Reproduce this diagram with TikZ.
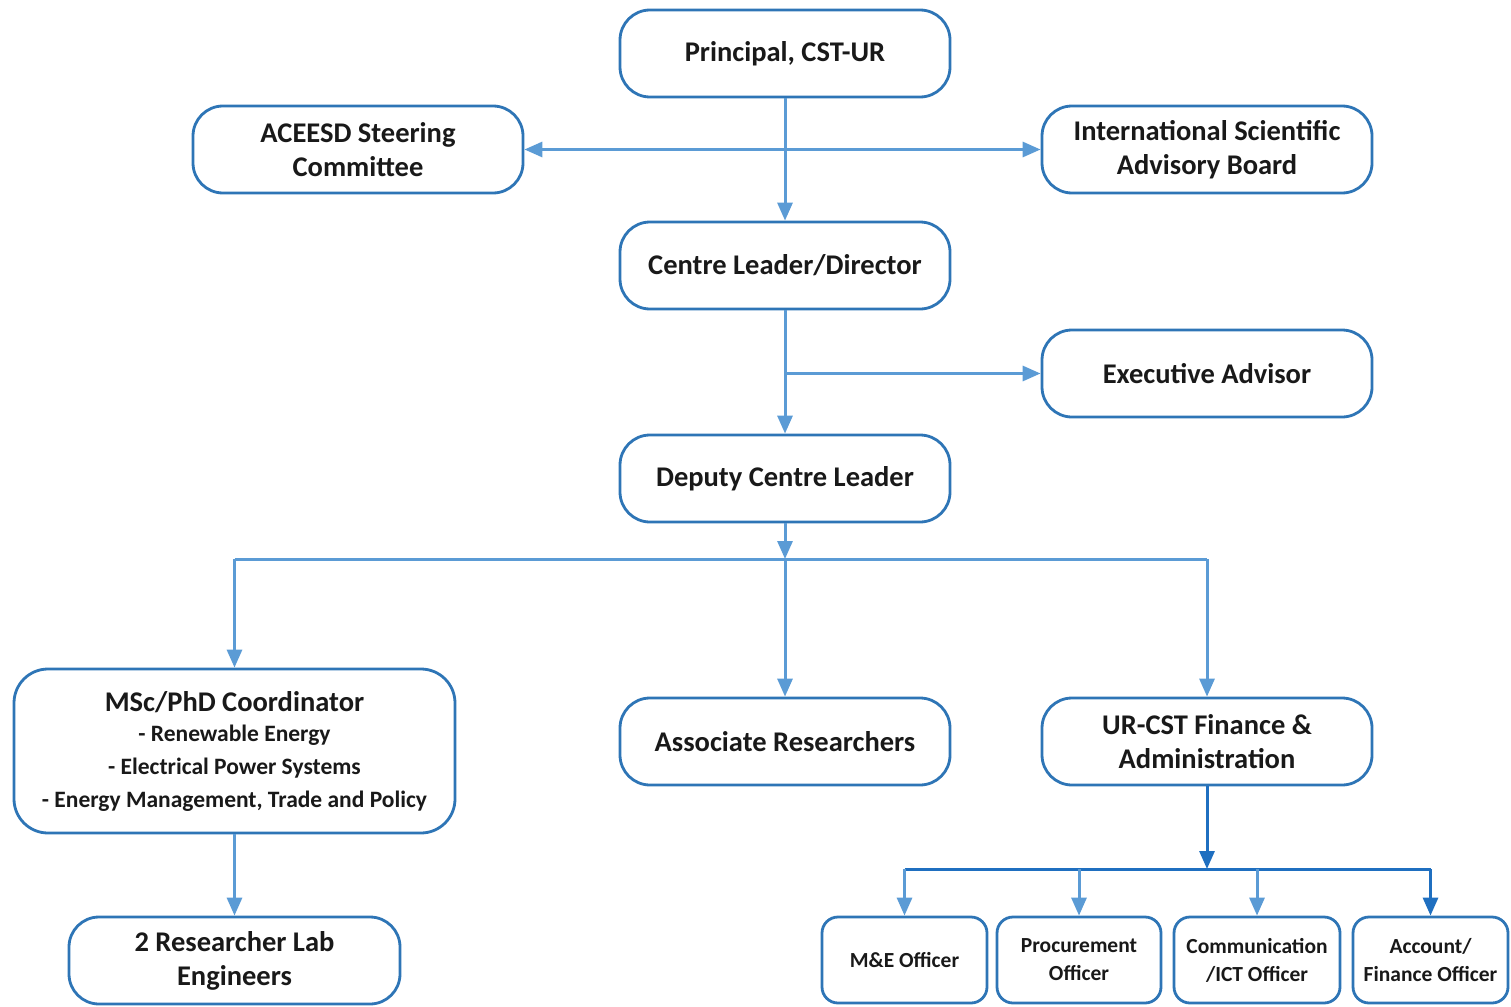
\documentclass[tikz,border=0pt]{standalone}
\usepackage{fontspec}
\setmainfont{Carlito}
\usetikzlibrary{arrows.meta}
\definecolor{boxblue}{HTML}{2E75B6}
\definecolor{lineblue}{HTML}{5B9BD5}
\definecolor{darkblue}{HTML}{1F6FC0}
\tikzset{
  box/.style={draw=boxblue, line width=2.8pt, rounded corners=30pt, fill=white,
    minimum width=330pt, minimum height=87pt, align=center, inner sep=2pt,
    font=\bfseries\fontsize{28.5}{34}\selectfont, text=black!90},
  smallbox/.style={draw=boxblue, line width=2.8pt, rounded corners=16pt, fill=white,
    minimum height=86pt, align=center, inner sep=2pt,
    font=\bfseries\fontsize{21.5}{28}\selectfont, text=black!90},
  tip/.style={},
  conn/.style={draw=lineblue, line width=3pt, -{Triangle[length=18pt,width=15pt]}},
  plain/.style={draw=lineblue, line width=3pt},
  dconn/.style={draw=darkblue, line width=3pt, -{Triangle[length=18pt,width=15pt]}},
  dplain/.style={draw=darkblue, line width=3pt},
}
\begin{document}
\begin{tikzpicture}[x=1pt,y=-1pt]
\useasboundingbox (0,0) rectangle (1511,1006);
\node[box] (prin) at (785,53.5) {Principal, CST-UR};
\node[box] (ace) at (358,149.5) {ACEESD Steering\\Committee};
\node[box] (isab) at (1207,149.5) {International Scientific\\Advisory Board};
\node[box] (cl) at (785,265.5) {Centre Leader/Director};
\node[box] (exec) at (1207,373.5) {Executive Advisor};
\node[box] (dep) at (785,478.5) {Deputy Centre Leader};
\node[box, minimum width=441pt, minimum height=164pt, rounded corners=34pt] (msc) at (234.5,751)
  {MSc/PhD Coordinator\\[-4pt]
   {\fontsize{23.5}{31}\selectfont - Renewable Energy}\\[-1pt]
   {\fontsize{23.5}{31}\selectfont - Electrical Power Systems}\\[-1pt]
   {\fontsize{23.5}{31}\selectfont - Energy Management, Trade and Policy}};
\node[box] (assoc) at (785,741.5) {Associate Researchers};
\node[box] (fin) at (1207,741.5) {UR-CST Finance \&\\Administration};
\node[box, minimum width=331pt] (lab) at (234.5,960.5) {2 Researcher Lab\\Engineers};
\node[smallbox, minimum width=165pt] (me) at (904.5,960) {M\&E Officer};
\node[smallbox, minimum width=164pt] (proc) at (1079,960) {Procurement\\Officer};
\node[smallbox, minimum width=166pt] (comm) at (1257,960) {Communication\\/ICT Officer};
\node[smallbox, minimum width=155pt] (acc) at (1430.5,960) {Account/\\Finance Officer};

\coordinate (bus) at (785,559);
\coordinate (fbus) at (1207,869);

\draw[conn] (prin) -- (cl);
\draw[plain, {Triangle[length=18pt,width=15pt]}-{Triangle[length=18pt,width=15pt]}] (ace) -- (isab);
\draw[conn] (cl) -- (dep);
\draw[conn] (cl.south |- exec.west) -- (exec.west);
\draw[conn] (dep.south) -- (bus);
\draw[plain] (msc.north |- bus) -- (fin.north |- bus);
\draw[conn] (msc.north |- bus) -- (msc.north);
\draw[conn] (bus) -- (assoc.north);
\draw[conn] (fin.north |- bus) -- (fin.north);
\draw[conn] (msc.south) -- (lab.north);
\draw[dconn] (fin.south) -- (fbus);
\draw[dplain] (me.north |- fbus) -- (acc.north |- fbus);
\draw[conn] (me.north |- fbus) -- (me.north);
\draw[conn] (proc.north |- fbus) -- (proc.north);
\draw[conn] (comm.north |- fbus) -- (comm.north);
\draw[dconn] (acc.north |- fbus) -- (acc.north);
\end{tikzpicture}
\end{document}
